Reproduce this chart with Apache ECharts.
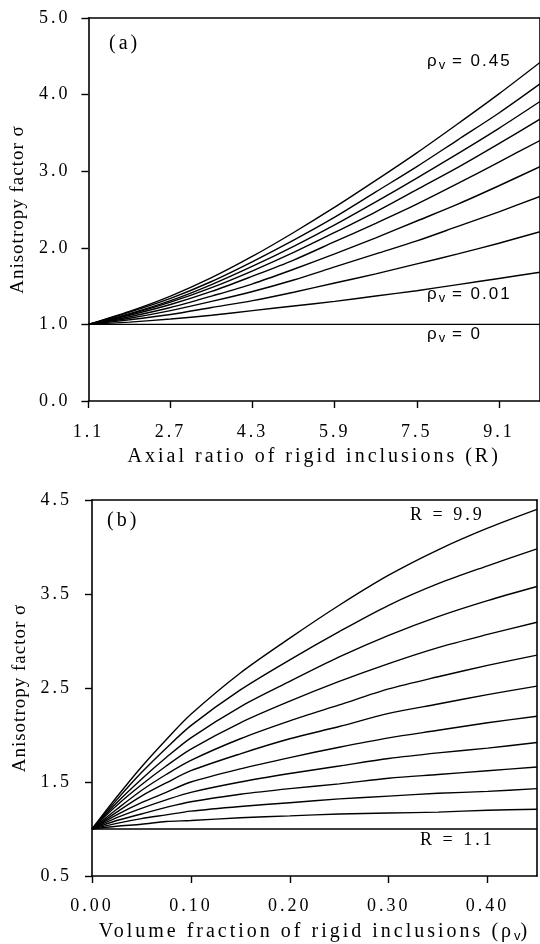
<!DOCTYPE html>
<html>
<head>
<meta charset="utf-8">
<script src="https://cdn.jsdelivr.net/npm/echarts@6/dist/echarts.min.js"></script>
<style>html,body{margin:0;padding:0;background:#fff}#c{width:540px;height:944px}</style>
</head>
<body>
<div id="c"></div>
<script>
// ---- Panel (a): sigma vs axial ratio R, one curve per volume fraction rho_v ----
const xA = [1.1, 1.9, 2.7, 3.5, 4.3, 5.1, 5.9, 6.7, 7.5, 8.3, 9.1, 9.9];
const xATicks = [1.1, 2.7, 4.3, 5.9, 7.5, 9.1];
const aRho000 = [1.00,1.00,1.00,1.00,1.00,1.00,1.00,1.00,1.00,1.00,1.00,1.00];
const aRho001 = [1.00,1.03,1.07,1.12,1.18,1.24,1.30,1.37,1.44,1.52,1.60,1.68];
const aCurve3 = [1.00,1.06,1.13,1.22,1.31,1.42,1.54,1.66,1.79,1.92,2.06,2.21];
const aCurve4 = [1.00,1.08,1.18,1.30,1.43,1.58,1.75,1.92,2.09,2.28,2.47,2.67];
const aCurve5 = [1.00,1.10,1.22,1.37,1.53,1.72,1.92,2.13,2.35,2.57,2.81,3.06];
const aCurve6 = [1.00,1.12,1.26,1.43,1.63,1.84,2.08,2.32,2.57,2.84,3.12,3.40];
const aCurve7 = [1.00,1.13,1.29,1.48,1.70,1.94,2.20,2.47,2.76,3.05,3.36,3.68];
const aCurve8 = [1.00,1.14,1.31,1.52,1.76,2.02,2.30,2.60,2.91,3.23,3.56,3.91];
const aCurve9 = [1.00,1.16,1.34,1.56,1.82,2.10,2.40,2.73,3.06,3.41,3.76,4.14];
const aRho045 = [1.00,1.17,1.37,1.61,1.89,2.20,2.53,2.88,3.24,3.62,4.01,4.42];
const yATicks = [0, 1, 2, 3, 4, 5];

// ---- Panel (b): sigma vs volume fraction rho_v, one curve per axial ratio R ----
const xB = [0, 0.025, 0.05, 0.075, 0.1, 0.15, 0.2, 0.25, 0.3, 0.35, 0.4, 0.45];
const xBTicks = [0, 0.1, 0.2, 0.3, 0.4];
const bR99 = [1.00,1.34,1.66,1.95,2.22,2.66,3.03,3.38,3.70,3.97,4.20,4.40];
const bR91 = [1.00,1.31,1.60,1.86,2.10,2.48,2.80,3.10,3.38,3.61,3.80,3.98];
const bR83 = [1.00,1.28,1.53,1.76,1.97,2.30,2.57,2.83,3.06,3.26,3.43,3.58];
const bR75 = [1.00,1.25,1.47,1.67,1.85,2.13,2.36,2.57,2.76,2.93,3.07,3.20];
const bR67 = [1.00,1.21,1.41,1.58,1.73,1.96,2.15,2.32,2.49,2.62,2.74,2.85];
const bR59 = [1.00,1.18,1.35,1.49,1.62,1.80,1.96,2.09,2.23,2.33,2.43,2.52];
const bR51 = [1.00,1.15,1.28,1.39,1.50,1.64,1.76,1.87,1.97,2.05,2.13,2.20];
const bR43 = [1.00,1.12,1.22,1.31,1.39,1.50,1.59,1.67,1.75,1.81,1.86,1.92];
const bR35 = [1.00,1.09,1.16,1.23,1.29,1.37,1.43,1.48,1.54,1.58,1.62,1.66];
const bR27 = [1.00,1.06,1.11,1.15,1.19,1.24,1.28,1.32,1.35,1.38,1.40,1.43];
const bR19 = [1.00,1.03,1.05,1.08,1.09,1.12,1.14,1.16,1.17,1.18,1.20,1.21];
const bR11 = [1.00,1.00,1.00,1.00,1.00,1.00,1.00,1.00,1.00,1.00,1.00,1.00];
const yBTicks = [0.5, 1.5, 2.5, 3.5, 4.5];

const serif = '"Liberation Serif","Times New Roman",serif';
const sans = '"Liberation Sans",Arial,sans-serif';

// the original typesetting is letter-spaced; apply canvas letterSpacing by font size
(function () {
  const proto = window.CanvasRenderingContext2D && CanvasRenderingContext2D.prototype;
  if (!proto || !('letterSpacing' in proto)) return;
  const spacingBySize = { 20: '3px', 19: '1px', 18: '3px', 17: '2px' };
  const setSp = function (ctx) {
    const m = /(\d+(?:\.\d+)?)px/.exec(ctx.font || '');
    const sz = m ? Math.round(parseFloat(m[1])) : 0;
    ctx.letterSpacing = spacingBySize[sz] || '0px';
  };
  const origFill = proto.fillText;
  proto.fillText = function () { setSp(this); return origFill.apply(this, arguments); };
  const origMeasure = proto.measureText;
  proto.measureText = function () { setSp(this); return origMeasure.apply(this, arguments); };
})();

const aSeries = [aRho000, aRho001, aCurve3, aCurve4, aCurve5, aCurve6, aCurve7, aCurve8, aCurve9, aRho045];
const bSeries = [bR99, bR91, bR83, bR75, bR67, bR59, bR51, bR43, bR35, bR27, bR19, bR11];

function zip(xs, ys) { return xs.map((x, i) => [x, ys[i]]); }
const lineStyle = { color: '#000', width: 1.4 };

const series = [];
aSeries.forEach((ys) => series.push({
  type: 'line', xAxisIndex: 0, yAxisIndex: 0, data: zip(xA, ys),
  showSymbol: false, smooth: 0.3, lineStyle, silent: true
}));
bSeries.forEach((ys) => series.push({
  type: 'line', xAxisIndex: 1, yAxisIndex: 1, data: zip(xB, ys),
  showSymbol: false, smooth: 0.3, lineStyle, silent: true
}));

const axisLine = { show: true, onZero: false, lineStyle: { color: '#000', width: 1.6 } };
const axisTick = (vals) => ({ show: true, inside: false, length: 7, lineStyle: { color: '#000', width: 1.4 }, customValues: vals });
const lbl = (vals, dec, margin) => ({ color: '#000', fontFamily: serif, fontSize: 18, margin, customValues: vals, formatter: v => Number(v).toFixed(dec) });
const nameStyle = { color: '#000', fontFamily: serif, fontSize: 20 };
const yNameStyle = { color: '#000', fontFamily: serif, fontSize: 19 };
const sub = { s: { fontFamily: sans, fontSize: 13, padding: [8, 0, 0, 0] } };
// frame-only axes (top / right borders)
const frame = (extra) => Object.assign({ type: 'value', axisLine, axisTick: { show: false }, axisLabel: { show: false }, splitLine: { show: false } }, extra);

const option = {
  animation: false,
  backgroundColor: '#fff',
  grid: [
    { left: 88, top: 18, width: 454, height: 383, show: false },
    { left: 92, top: 500, width: 445, height: 377, show: false }
  ],
  xAxis: [
    { type: 'value', gridIndex: 0, position: 'bottom', min: 1.1, max: 9.9, axisLine, axisTick: axisTick(xATicks),
      axisLabel: lbl(xATicks, 1, 21), splitLine: { show: false },
      name: 'Axial ratio of rigid inclusions (R)', nameLocation: 'middle', nameGap: 44, nameTextStyle: nameStyle },
    { type: 'value', gridIndex: 1, position: 'bottom', min: 0, max: 0.45, axisLine, axisTick: axisTick(xBTicks),
      axisLabel: lbl(xBTicks, 2, 20), splitLine: { show: false },
      name: 'Volume fraction of rigid inclusions (ρ{s|v})', nameLocation: 'middle', nameGap: 44,
      nameTextStyle: Object.assign({}, nameStyle, { rich: { s: { fontFamily: sans, fontSize: 13, padding: [9, 0, 0, 0] } } }) },
    frame({ gridIndex: 0, position: 'top', min: 1.1, max: 9.9 }),
    frame({ gridIndex: 1, position: 'top', min: 0, max: 0.45 })
  ],
  yAxis: [
    { type: 'value', gridIndex: 0, position: 'left', min: 0, max: 5, axisLine, axisTick: axisTick(yATicks),
      axisLabel: lbl(yATicks, 1, 18), splitLine: { show: false },
      name: 'Anisotropy factor σ', nameLocation: 'middle', nameGap: 57, nameTextStyle: yNameStyle },
    { type: 'value', gridIndex: 1, position: 'left', min: 0.5, max: 4.5, axisLine, axisTick: axisTick(yBTicks),
      axisLabel: lbl(yBTicks, 1, 20), splitLine: { show: false },
      name: 'Anisotropy factor σ', nameLocation: 'middle', nameGap: 61, nameTextStyle: yNameStyle },
    frame({ gridIndex: 0, position: 'right', min: 0, max: 5 }),
    frame({ gridIndex: 1, position: 'right', min: 0.5, max: 4.5 })
  ],
  graphic: [
    { type: 'text', left: 109, top: 32, style: { text: '(a)', font: '20px ' + serif, fill: '#000' } },
    { type: 'text', left: 107, top: 509, style: { text: '(b)', font: '20px ' + serif, fill: '#000' } },
    { type: 'text', left: 427, top: 52, style: { text: 'ρ{s|v} = 0.45', font: '17px ' + sans, fill: '#000', rich: sub } },
    { type: 'text', left: 427, top: 285, style: { text: 'ρ{s|v} = 0.01', font: '17px ' + sans, fill: '#000', rich: sub } },
    { type: 'text', left: 427, top: 325, style: { text: 'ρ{s|v} = 0', font: '17px ' + sans, fill: '#000', rich: sub } },
    { type: 'text', left: 410, top: 505, style: { text: 'R = 9.9', font: '18px ' + serif, fill: '#000' } },
    { type: 'text', left: 420, top: 830, style: { text: 'R = 1.1', font: '18px ' + serif, fill: '#000' } }
  ],
  series
};
const chart = echarts.init(document.getElementById('c'), null, { renderer: 'canvas' });
chart.setOption(option);
</script>
</body>
</html>
